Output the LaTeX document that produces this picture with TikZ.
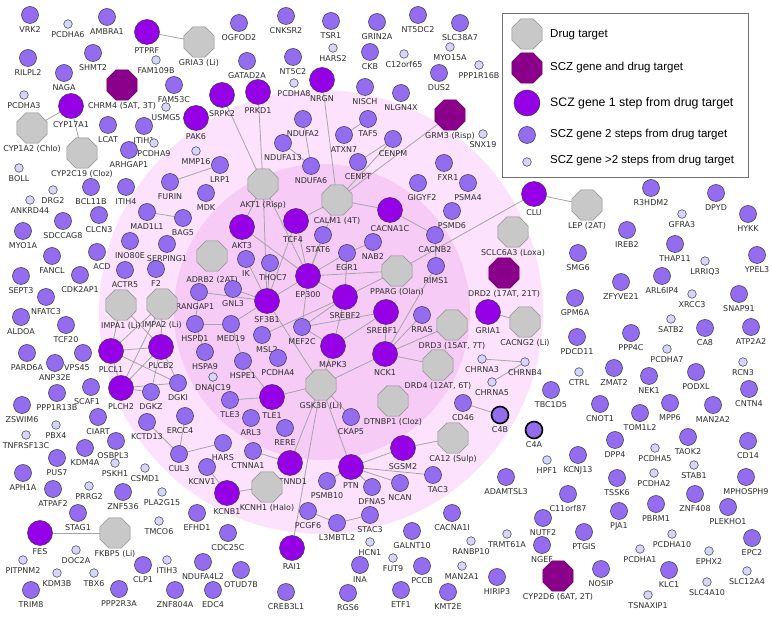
\documentclass[tikz,border=0pt]{standalone}
\usepackage{fontspec}
\usetikzlibrary{shapes.geometric}
\newfontfamily\labff{DejaVu Sans}
\newfontfamily\legff{Liberation Sans}
\pgfdeclarelayer{discs}
\pgfdeclarelayer{edges}
\pgfsetlayers{discs,edges,main}
\definecolor{cB}{RGB}{150,0,230}
\definecolor{cM}{RGB}{147,108,240}
\definecolor{cS}{RGB}{214,214,250}
\definecolor{cG}{RGB}{200,200,200}
\definecolor{cGb}{RGB}{140,140,140}
\definecolor{cD}{RGB}{139,0,139}
\definecolor{cDb}{RGB}{90,0,90}
\definecolor{nb}{RGB}{55,55,80}
\definecolor{edgecol}{RGB}{165,165,165}
\definecolor{labcol}{RGB}{45,45,45}
\definecolor{pinkout}{RGB}{252,226,252}
\definecolor{pinkin}{RGB}{246,204,246}
\tikzset{
  base/.style={draw=nb, line width=0.5pt, inner sep=0pt, outer sep=0pt},
  B/.style={base, circle, fill=cB, minimum size=25pt},
  M/.style={base, circle, fill=cM, minimum size=17pt},
  S/.style={base, circle, fill=cS, minimum size=8.6pt},
  T/.style={base, circle, fill=cM, minimum size=17pt, draw=black, line width=1.6pt},
  G/.style={base, regular polygon, regular polygon sides=8, fill=cG, draw=cGb, minimum size=32.5pt},
  D/.style={base, regular polygon, regular polygon sides=8, fill=cD, draw=cDb, minimum size=32.5pt},
  lab/.style={font=\labff\fontsize{8}{9}\selectfont, text=labcol, inner sep=0pt, text height=6pt, text depth=1.6pt, label distance=2.6pt},
  edge/.style={draw=edgecol, line width=0.8pt},
  legtext/.style={font=\legff\fontsize{11.5}{13}\selectfont, anchor=west, inner sep=0pt, text=black}
}
\newcommand\N[5][]{\node[#2,label={[lab,#1]below:{#5}}] (#3) at (#4) {};}
\begin{document}
\begin{tikzpicture}[x=1pt,y=-1pt]
\useasboundingbox (0,0) rectangle (772,617);
\begin{pgfonlayer}{discs}
\fill[white] (0,0) rectangle (772,617);
\fill[pinkout] (321,312) circle (222pt);
\fill[pinkin] (322,312) circle (148pt);
\end{pgfonlayer}
% ---- nodes
\N{M}{vrk2}{30,15}{VRK2}
\N{S}{pcdha6}{68,24}{PCDHA6}
\N{M}{ambra1}{107,17}{AMBRA1}
\N{B}{ptprf}{147,32}{PTPRF}
\N{G}{gria3}{199,42}{GRIA3 (Li)}
\N{M}{ogfod2}{239,23}{OGFOD2}
\N{M}{cnksr2}{286,16}{CNKSR2}
\N{M}{tsr1}{331,21}{TSR1}
\N{M}{grin2a}{377,22}{GRIN2A}
\N{M}{nt5dc2}{418,15}{NT5DC2}
\N{M}{slc38a7}{460,23}{SLC38A7}
\N{M}{rilpl2}{28,58}{RILPL2}
\N{M}{shmt2}{93,53}{SHMT2}
\N{M}{naga}{64,73}{NAGA}
\N{S}{fam109b}{156,60}{FAM109B}
\N{D}{chrm4}{122,85}{CHRM4 (5AT, 3T)}
\N{M}{fam53c}{174,85}{FAM53C}
\N{S}{hars2}{333,48}{HARS2}
\N{M}{ckb}{370,52}{CKB}
\N{S}{myo15a}{450,47}{MYO15A}
\N{S}{c12orf65}{404,54}{C12orf65}
\N{S}{ppp1r16b}{479,65}{PPP1R16B}
\N{M}{gatad2a}{247,61}{GATAD2A}
\N{M}{nt5c2}{293,57}{NT5C2}
\N{M}{dus2}{439,73}{DUS2}
\N{S}{pcdha8}{294,83}{PCDHA8}
\N{B}{nrgn}{322,80}{NRGN}
\N{M}{nisch}{365,87}{NISCH}
\N{M}{nlgn4x}{401,93}{NLGN4X}
\N{S}{pcdha3}{24,95}{PCDHA3}
\N{B}{cyp17a1}{71,106}{CYP17A1}
\N{S}{usmg5}{166,107}{USMG5}
\N{B}{pak6}{196,118}{PAK6}
\N{B}{srpk2}{222,95}{SRPK2}
\N{B}{prkd1}{258,92}{PRKD1}
\N{D}{grm3}{450,115}{GRM3 (Risp)}
\N{S}{snx19}{483,134}{SNX19}
\N{G}{cyp1a2}{32,128}{CYP1A2 (Chlo)}
\N{M}{lcat}{108,125}{LCAT}
\N{M}{itih1}{144,126}{ITIH1}
\N{M}{ndufa2}{303,119}{NDUFA2}
\N{M}{taf5}{368,119}{TAF5}
\N{S}{pcdha9}{154,143}{PCDHA9}
\N{M}{arhgap1}{129,150}{ARHGAP1}
\N{S}{mmp16}{196,151}{MMP16}
\N{M}{ndufa13}{283,143}{NDUFA13}
\N{M}{atxn7}{344,135}{ATXN7}
\N{M}{cenpm}{393,139}{CENPM}
\N{G}{cyp2c19}{82,153}{CYP2C19 (Cloz)}
\N{S}{boll}{19,168}{BOLL}
\N{M}{lrp1}{220,165}{LRP1}
\N{M}{ndufa6}{311,166}{NDUFA6}
\N{M}{cenpt}{358,162}{CENPT}
\N[xshift=4pt]{M}{fxr1}{444,163}{FXR1}
\N{M}{furin}{170,182}{FURIN}
\N{S}{drg2}{53,190}{DRG2}
\N{M}{bcl11b}{91,187}{BCL11B}
\N{M}{itih4}{126,187}{ITIH4}
\N{M}{mdk}{206,193}{MDK}
\N{G}{akt1}{263,184}{AKT1 (Risp)}
\N{G}{calm1}{337,200}{CALM1 (4T)}
\N[xshift=4pt]{M}{gigyf2}{418,183}{GIGYF2}
\N{M}{psma4}{468,183}{PSMA4}
\N{B}{clu}{534,194}{CLU}
\N{G}{lep}{587,205}{LEP (2AT)}
\N{M}{r3hdm2}{651,188}{R3HDM2}
\N{M}{dpyd}{716,193}{DPYD}
\N{S}{ankrd44}{30,200}{ANKRD44}
\N{M}{hykk}{748,214}{HYKK}
\N{S}{gfra3}{682,214}{GFRA3}
\N{M}{sdccag8}{63,221}{SDCCAG8}
\N{M}{clcn3}{99,215}{CLCN3}
\N{M}{mad1l1}{147,212}{MAD1L1}
\N{M}{bag5}{183,218}{BAG5}
\N[xshift=-3pt]{B}{tcf4}{296,221}{TCF4}
\N{B}{cacna1c}{390,210}{CACNA1C}
\N{M}{psmd6}{452,211}{PSMD6}
\N{B}{akt3}{242,227}{AKT3}
\N{M}{ireb2}{627,230}{IREB2}
\N{M}{myo1a}{23,231}{MYO1A}
\N[xshift=-5pt]{M}{stat6}{323,235}{STAT6}
\N{M}{cacnb2}{435,235}{CACNB2}
\N{G}{sclc6a3}{513,232}{SCLC6A3 (Loxa)}
\N{M}{nab2}{373,242}{NAB2}
\N{M}{ino80e}{130,241}{INO80E}
\N{M}{serping1}{167,244}{SERPING1}
\N{M}{thap11}{675,244}{THAP11}
\N{M}{egr1}{347,253}{EGR1}
\N[xshift=5pt]{M}{acd}{97,252}{ACD}
\N[yshift=-3pt]{G}{adrb2}{212,256}{ADRB2 (2AT)}
\N{M}{fancl}{52,256}{FANCL}
\N{M}{smg6}{578,253}{SMG6}
\N{M}{ypel3}{757,255}{YPEL3}
\N{M}{ik}{246,259}{IK}
\N[xshift=3pt]{M}{thoc7}{270,263}{THOC7}
\N{S}{lrriq3}{705,261}{LRRIQ3}
\N{M}{rims1}{436,266}{RIMS1}
\N{M}{actr5}{125,270}{ACTR5}
\N{M}{f2}{156,269}{F2}
\N{G}{pparg}{397,271}{PPARG (Olan)}
\N{D}{drd2}{504,273}{DRD2 (17AT, 21T)}
\N{M}{sept3}{21,276}{SEPT3}
\N{M}{cdk2ap1}{80,275}{CDK2AP1}
\N{B}{ep300}{308,276}{EP300}
\N{M}{arl6ip4}{662,276}{ARL6IP4}
\N{M}{zfyve21}{621,282}{ZFYVE21}
\N{M}{gnl3}{233,289}{GNL3}
\N[xshift=-4pt]{M}{rangap1}{199,292}{RANGAP1}
\N{M}{nfatc3}{46,297}{NFATC3}
\N{B}{srebf2}{345,297}{SREBF2}
\N{M}{gpm6a}{575,298}{GPM6A}
\N{B}{sf3b1}{267,301}{SF3B1}
\N{G}{impa1}{121,305}{IMPA1 (Li)}
\N{G}{impa2}{162,304}{IMPA2 (Li)}
\N{S}{xrcc3}{692,294}{XRCC3}
\N{M}{snap91}{739,294}{SNAP91}
\N{B}{gria1}{488,312}{GRIA1}
\N[xshift=-4pt]{B}{srebf1}{386,312}{SREBF1}
\N{M}{rras}{422,315}{RRAS}
\N{M}{aldoa}{21,317}{ALDOA}
\N{S}{satb2}{671,319}{SATB2}
\N{G}{cacng2}{525,322}{CACNG2 (Li)}
\N{M}{hspd1}{195,324}{HSPD1}
\N{M}{med19}{231,324}{MED19}
\N{G}{drd3}{452,325}{DRD3 (15AT, 7T)}
\N{M}{tcf20}{66,325}{TCF20}
\N{M}{mef2c}{302,327}{MEF2C}
\N{M}{ca8}{705,328}{CA8}
\N{M}{atp2a2}{751,327}{ATP2A2}
\N{M}{ppp4c}{631,333}{PPP4C}
\N[xshift=5pt]{M}{msl2}{262,335}{MSL2}
\N{M}{pdcd11}{577,337}{PDCD11}
\N{B}{mapk3}{333,346}{MAPK3}
\N{B}{plcb2}{161,347}{PLCB2}
\N{B}{plcl1}{111,351}{PLCL1}
\N{S}{pcdha7}{667,349}{PCDHA7}
\N{M}{hspa9}{205,352}{HSPA9}
\N{M}{pard6a}{27,353}{PARD6A}
\N[xshift=-6pt]{M}{vps45}{83,353}{VPS45}
\N{B}{nck1}{385,354}{NCK1}
\N{M}{pcdha4}{278,358}{PCDHA4}
\N{M}{hspe1}{243,361}{HSPE1}
\N{S}{chrna3}{482,359}{CHRNA3}
\N{S}{chrnb4}{525,362}{CHRNB4}
\N{S}{rcn3}{743,362}{RCN3}
\N{M}{anp32e}{55,363}{ANP32E}
\N{G}{drd4}{438,365}{DRD4 (12AT, 6T)}
\N{M}{zmat2}{614,368}{ZMAT2}
\N{M}{podxl}{696,372}{PODXL}
\N{S}{ctrl}{579,372}{CTRL}
\N{M}{nek1}{649,376}{NEK1}
\N{S}{dnajc19}{213,377}{DNAJC19}
\N{S}{chrna5}{492,382}{CHRNA5}
\N{M}{dgki}{178,383}{DGKI}
\N{G}{gsk3b}{321,385}{GSK3B (Li)}
\N{B}{plch2}{121,388}{PLCH2}
\N[xshift=-4pt]{M}{scaf1}{91,387}{SCAF1}
\N{M}{cntn4}{749,389}{CNTN4}
\N{M}{tbc1d5}{551,390}{TBC1D5}
\N{M}{dgkz}{151,392}{DGKZ}
\N{M}{ppp1r13b}{57,393}{PPP1R13B}
\N{B}{tle1}{272,397}{TLE1}
\N{M}{tle3}{230,400}{TLE3}
\N{G}{dtnbp1}{393,401}{DTNBP1 (Cloz)}
\N{M}{cd46}{463,403}{CD46}
\N{M}{cnot1}{600,404}{CNOT1}
\N{M}{mpp6}{670,403}{MPP6}
\N{M}{man2a2}{713,405}{MAN2A2}
\N{M}{zswim6}{22,405}{ZSWIM6}
\N{T}{c4b}{500,415}{C4B}
\N{M}{tom1l2}{640,413}{TOM1L2}
\N[xshift=-5pt]{M}{ercc4}{185,416}{ERCC4}
\N{M}{ciart}{98,417}{CIART}
\N{M}{arl3}{251,418}{ARL3}
\N{M}{ckap5}{351,417}{CKAP5}
\N{M}{kctd13}{147,422}{KCTD13}
\N{S}{pbx4}{56,425}{PBX4}
\N{M}{rere}{285,428}{RERE}
\N{T}{c4a}{534,430}{C4A}
\N{S}{tnfrsf13c}{26,435}{TNFRSF13C}
\N{M}{taok2}{688,437}{TAOK2}
\N{G}{ca12}{453,438}{CA12 (Sulp)}
\N{M}{dpp4}{615,440}{DPP4}
\N[xshift=-3pt]{M}{osbpl3}{116,441}{OSBPL3}
\N{M}{cd14}{748,441}{CD14}
\N{M}{hars}{223,443}{HARS}
\N{M}{kdm4a}{85,448}{KDM4A}
\N{S}{pcdha5}{655,448}{PCDHA5}
\N{B}{sgsm2}{403,448}{SGSM2}
\N[xshift=-5pt]{M}{ctnna1}{253,451}{CTNNA1}
\N{M}{cul3}{179,454}{CUL3}
\N{M}{kcnj13}{578,455}{KCNJ13}
\N{M}{pus7}{57,458}{PUS7}
\N{S}{hpf1}{547,460}{HPF1}
\N{S}{pskh1}{115,463}{PSKH1}
\N{B}{ctnnd1}{290,463}{CTNND1}
\N{S}{stab1}{694,465}{STAB1}
\N{B}{ptn}{351,467}{PTN}
\N[xshift=-5pt]{M}{kcnv1}{207,467}{KCNV1}
\N{S}{csmd1}{145,468}{CSMD1}
\N{M}{aph1a}{23,473}{APH1A}
\N{S}{pcdha2}{654,473}{PCDHA2}
\N[xshift=5pt]{M}{tac3}{433,475}{TAC3}
\N{M}{adamtsl3}{506,477}{ADAMTSL3}
\N{M}{mphosph9}{746,477}{MPHOSPH9}
\N{M}{tssk6}{617,478}{TSSK6}
\N{M}{psmb10}{327,481}{PSMB10}
\N{M}{ncan}{400,483}{NCAN}
\N{S}{prrg2}{89,486}{PRRG2}
\N{G}{kcnh1}{267,487}{KCNH1 (Halo)}
\N{M}{dfna5}{372,487}{DFNA5}
\N{M}{atpaf2}{53,489}{ATPAF2}
\N{S}{pla2g15}{162,492}{PLA2G15}
\N{M}{znf536}{123,492}{ZNF536}
\N{B}{kcnb1}{227,493}{KCNB1}
\N{M}{c11orf87}{568,494}{C11orf87}
\N{M}{znf408}{695,494}{ZNF408}
\N{M}{pbrm1}{656,504}{PBRM1}
\N{M}{plekho1}{728,507}{PLEKHO1}
\N{M}{pcgf6}{308,511}{PCGF6}
\N{M}{pja1}{619,511}{PJA1}
\N{M}{efhd1}{197,513}{EFHD1}
\N{M}{stag1}{78,513}{STAG1}
\N{M}{stac3}{370,515}{STAC3}
\N{M}{cacna1i}{452,513}{CACNA1I}
\N{M}{nutf2}{543,518}{NUTF2}
\N{S}{tmco6}{159,521}{TMCO6}
\N{M}{l3mbtl2}{337,523}{L3MBTL2}
\N{M}{galnt10}{412,531}{GALNT10}
\N{M}{ptgis}{584,532}{PTGIS}
\N{B}{fes}{40,533}{FES}
\N{G}{fkbp5}{115,533}{FKBP5 (Li)}
\N{M}{cdc25c}{228,533}{CDC25C}
\N{S}{pcdha10}{672,534}{PCDHA10}
\N{S}{trmt61a}{507,534}{TRMT61A}
\N{M}{epc2}{752,538}{EPC2}
\N{S}{ranbp10}{471,541}{RANBP10}
\N{S}{hcn1}{370,542}{HCN1}
\N{M}{ngef}{542,545}{NGEF}
\N{B}{rai1}{292,548}{RAI1}
\N{S}{pcdha1}{640,549}{PCDHA1}
\N{S}{doc2a}{76,550}{DOC2A}
\N{S}{ephx2}{709,551}{EPHX2}
\N{S}{fut9}{393,558}{FUT9}
\N{S}{pitpnm2}{23,560}{PITPNM2}
\N{S}{itih3}{167,560}{ITIH3}
\N{M}{ndufa4l2}{203,562}{NDUFA4L2}
\N{M}{clp1}{143,565}{CLP1}
\N{M}{ina}{360,565}{INA}
\N{M}{pccb}{422,566}{PCCB}
\N{S}{man2a1}{462,566}{MAN2A1}
\N{M}{nosip}{601,569}{NOSIP}
\N{M}{klc1}{669,570}{KLC1}
\N{M}{otud7b}{241,570}{OTUD7B}
\N{S}{slc12a4}{747,571}{SLC12A4}
\N{S}{kdm3b}{57,573}{KDM3B}
\N{S}{tbx6}{94,573}{TBX6}
\N{D}{cyp2d6}{558,576}{CYP2D6 (6AT, 2T)}
\N{M}{hirip3}{497,577}{HIRIP3}
\N{S}{slc4a10}{707,582}{SLC4A10}
\N{M}{trim8}{31,590}{TRIM8}
\N{M}{ppp2r3a}{119,589}{PPP2R3A}
\N{M}{znf804a}{175,590}{ZNF804A}
\N{M}{edc4}{213,590}{EDC4}
\N{M}{creb3l1}{286,592}{CREB3L1}
\N{M}{rgs6}{348,593}{RGS6}
\N{M}{etf1}{401,590}{ETF1}
\N{M}{kmt2e}{448,592}{KMT2E}
\N{S}{tsnaxip1}{648,595}{TSNAXIP1}
% ---- edges
\begin{pgfonlayer}{edges}
\foreach \a/\b in {ptprf/gria3, cyp17a1/cyp1a2, cyp17a1/cyp2c19, furin/lrp1,
  srpk2/akt1, prkd1/akt1, nrgn/calm1, ndufa2/ndufa6, ndufa13/ndufa6, atxn7/taf5,
  cenpt/cenpm, cenpm/calm1, grm3/calm1, clu/lep, clu/pparg, mad1l1/bag5,
  akt1/akt3, akt1/sf3b1, akt1/ep300, calm1/tcf4, calm1/ep300, calm1/cacna1c,
  cacna1c/cacnb2, cacnb2/rims1, egr1/nab2, egr1/srebf2, egr1/ep300,
  ep300/tcf4, ep300/stat6, ep300/akt3, ep300/sf3b1, ep300/srebf2, ep300/pparg, ep300/mef2c,
  tcf4/sf3b1, sf3b1/gnl3, sf3b1/rangap1, sf3b1/ik, sf3b1/thoc7, sf3b1/gsk3b, sf3b1/med19,
  srebf2/pparg, srebf2/mef2c, mef2c/srebf1, msl2/srebf2,
  mapk3/srebf2, mapk3/srebf1, mapk3/gsk3b, mapk3/mef2c,
  nck1/rims1, nck1/rras, nck1/drd3, nck1/drd4, nck1/gsk3b, nck1/srebf1,
  rangap1/hspd1, hspd1/med19, hspd1/hspa9, med19/hspe1,
  tle1/tle3, tle1/hspe1, tle1/gsk3b,
  gsk3b/ctnnd1, gsk3b/rai1, gsk3b/ptn, gsk3b/ckap5,
  ctnna1/ctnnd1, kcnb1/kcnv1, kcnb1/kcnh1, hars/cul3, kctd13/cul3, ercc4/cul3,
  ptn/psmb10, ptn/dfna5, ptn/sgsm2, ptn/ncan, ptn/tac3, sgsm2/ca12,
  pcgf6/l3mbtl2, l3mbtl2/stac3, cd46/c4b, gria1/cacng2, chrna3/chrnb4, chrna5/chrnb4,
  fes/fkbp5,
  impa1/plcl1, impa1/plcb2, impa2/plcl1, impa2/plcb2, impa2/plch2,
  plcl1/plcb2, plcl1/plch2, plcb2/plch2, plcl1/dgki, plcb2/dgki, plcb2/dgkz,
  plch2/dgkz, plch2/dgki}
  \draw[edge] (\a) -- (\b);
\end{pgfonlayer}
% ---- legend
\draw[draw=black!55, line width=0.8pt, fill=white] (502,13) rectangle (748,177);
\node[G] (lg1) at (527,34) {};
\node[D] (lg2) at (527,68) {};
\node[B, minimum size=26pt] (lg3) at (527,103) {};
\node[M] (lg4) at (527,135) {};
\node[S] (lg5) at (527,162) {};
\node[legtext] (lt1) at (550,35) {Drug target};
\node[legtext] (lt2) at (550,68) {SCZ gene and drug target};
\node[legtext, font=\legff\fontsize{12.3}{14}\selectfont] (lt3) at (550,103) {SCZ gene 1 step from drug target};
\node[legtext] (lt4) at (550,135) {SCZ gene 2 steps from drug target};
\node[legtext] (lt5) at (550,161) {SCZ gene >2 steps from drug target};
\end{tikzpicture}
\end{document}
